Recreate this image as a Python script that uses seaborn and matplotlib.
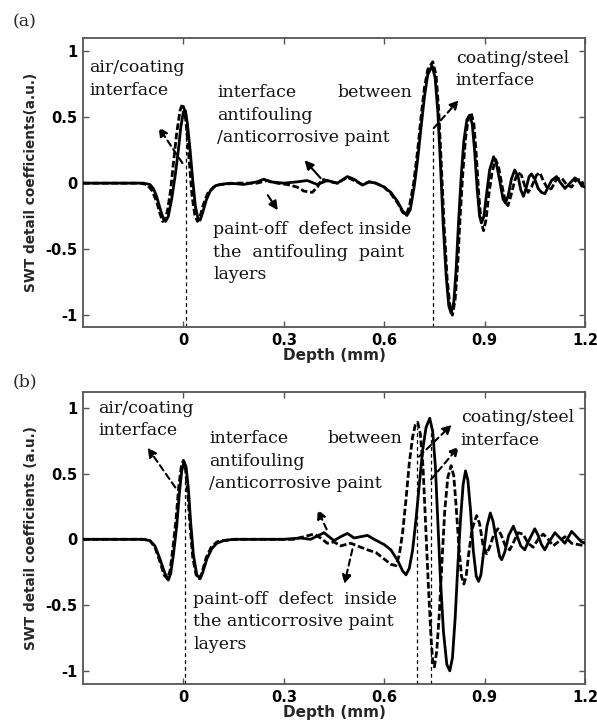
import matplotlib
matplotlib.use("Agg")
import matplotlib.pyplot as plt
import seaborn as sns
import pandas as pd

# ---------------- data ----------------
a_solid_x = [-0.30, -0.12, -0.10, -0.09, -0.08, -0.07, -0.06, -0.053, -0.045, -0.035, -0.025, -0.015,
             -0.008, 0.0, 0.006, 0.012, 0.02, 0.028, 0.036, 0.044, 0.05, 0.058, 0.068, 0.08, 0.095,
             0.11, 0.14, 0.18, 0.22, 0.24, 0.26, 0.30, 0.34, 0.37, 0.40, 0.43, 0.46, 0.49, 0.51,
             0.535, 0.555, 0.575, 0.60, 0.62, 0.64, 0.655, 0.668, 0.678, 0.69, 0.70, 0.71, 0.72,
             0.73, 0.743, 0.752, 0.76, 0.768, 0.776, 0.785, 0.793, 0.80, 0.808, 0.815, 0.822, 0.83,
             0.838, 0.847, 0.855, 0.863, 0.87, 0.878, 0.885, 0.891, 0.898, 0.905, 0.915, 0.927,
             0.935, 0.945, 0.955, 0.962, 0.97, 0.98, 0.99, 1.0, 1.008, 1.016, 1.025, 1.033, 1.04,
             1.05, 1.06, 1.07, 1.08, 1.09, 1.10, 1.115, 1.125, 1.14, 1.155, 1.17, 1.18, 1.19, 1.20]
a_solid_y = [0.0, 0.0, -0.01, -0.04, -0.10, -0.19, -0.27, -0.29, -0.25, -0.12, 0.05, 0.25,
             0.42, 0.54, 0.55, 0.45, 0.25, 0.02, -0.18, -0.27, -0.28, -0.22, -0.13, -0.06, -0.02,
             -0.01, 0.0, -0.01, 0.01, 0.03, 0.01, 0.0, 0.01, 0.02, -0.01, 0.02, 0.0, 0.05, 0.03,
             -0.015, 0.01, 0.0, -0.03, -0.07, -0.14, -0.21, -0.245, -0.20, -0.02, 0.18, 0.42, 0.65,
             0.82, 0.89, 0.80, 0.55, 0.15, -0.30, -0.70, -0.93, -0.985, -0.90, -0.65, -0.30, 0.05,
             0.32, 0.48, 0.515, 0.45, 0.25, -0.05, -0.25, -0.30, -0.25, -0.10, 0.10, 0.20,
             0.15, 0.02, -0.12, -0.15, -0.10, 0.03, 0.10, 0.05, -0.05, -0.10, -0.03, 0.05, 0.07,
             0.03, -0.04, -0.07, -0.08, -0.03, 0.02, 0.05, 0.01, -0.04, 0.0, 0.04, 0.02, -0.02, -0.03]

a_dash_x = [-0.30, -0.13, -0.11, -0.095, -0.08, -0.07, -0.062, -0.055, -0.047, -0.038, -0.03, -0.02,
            -0.01, -0.003, 0.004, 0.01, 0.018, 0.026, 0.034, 0.042, 0.05, 0.06, 0.072, 0.09, 0.11,
            0.16, 0.22, 0.25, 0.28, 0.31, 0.34, 0.36, 0.385, 0.40, 0.415, 0.44, 0.46, 0.49, 0.51,
            0.535, 0.555, 0.575, 0.60, 0.62, 0.64, 0.655, 0.665, 0.675, 0.688, 0.70, 0.71, 0.72,
            0.73, 0.745, 0.755, 0.763, 0.771, 0.779, 0.788, 0.797, 0.804, 0.812, 0.82, 0.827,
            0.835, 0.843, 0.852, 0.86, 0.868, 0.875, 0.883, 0.89, 0.897, 0.904, 0.912, 0.922,
            0.933, 0.942, 0.952, 0.963, 0.97, 0.978, 0.99, 1.0, 1.01, 1.02, 1.03, 1.04, 1.055,
            1.065, 1.075, 1.09, 1.10, 1.115, 1.13, 1.145, 1.16, 1.175, 1.19, 1.20]
a_dash_y = [0.0, 0.0, -0.01, -0.05, -0.14, -0.23, -0.29, -0.28, -0.20, -0.05, 0.15, 0.38,
            0.55, 0.60, 0.55, 0.40, 0.15, -0.10, -0.24, -0.29, -0.25, -0.16, -0.08, -0.03, -0.01,
            0.0, 0.0, 0.02, 0.0, -0.01, -0.03, -0.06, -0.07, -0.03, 0.03, 0.01, 0.0, 0.045, 0.02,
            -0.01, 0.01, 0.0, -0.03, -0.08, -0.15, -0.22, -0.24, -0.18, 0.0, 0.25, 0.50, 0.72,
            0.86, 0.92, 0.82, 0.55, 0.12, -0.32, -0.72, -0.95, -1.0, -0.88, -0.60, -0.25,
            0.08, 0.34, 0.50, 0.53, 0.45, 0.22, -0.10, -0.30, -0.36, -0.28, -0.10, 0.08,
            0.18, 0.12, -0.02, -0.15, -0.17, -0.10, 0.02, 0.08, 0.06, -0.02, -0.07, -0.03, 0.06,
            0.08, 0.02, -0.05, -0.04, 0.03, 0.04, -0.01, -0.03, 0.03, 0.02, -0.05]

b_solid_x = [-0.30, -0.12, -0.10, -0.085, -0.07, -0.055, -0.045, -0.038, -0.03, -0.02, -0.012,
             -0.005, 0.002, 0.008, 0.015, 0.022, 0.03, 0.04, 0.05, 0.058, 0.07, 0.085, 0.10, 0.12,
             0.15, 0.30, 0.35, 0.38, 0.42, 0.45, 0.47, 0.49, 0.51, 0.53, 0.55, 0.57, 0.60, 0.62,
             0.64, 0.655, 0.665, 0.675, 0.685, 0.695, 0.705, 0.715, 0.725, 0.736, 0.745, 0.753,
             0.76, 0.768, 0.777, 0.787, 0.796, 0.804, 0.812, 0.82, 0.828, 0.836, 0.843, 0.85,
             0.858, 0.866, 0.875, 0.882, 0.889, 0.897, 0.907, 0.917, 0.925, 0.935, 0.945, 0.951,
             0.96, 0.972, 0.986, 0.995, 1.008, 1.02, 1.03, 1.05, 1.06, 1.07, 1.08, 1.09, 1.11,
             1.125, 1.14, 1.16, 1.175, 1.19, 1.20]
b_solid_y = [0.0, 0.0, -0.01, -0.05, -0.15, -0.26, -0.31, -0.26, -0.12, 0.10, 0.35,
             0.52, 0.59, 0.55, 0.38, 0.12, -0.12, -0.27, -0.30, -0.25, -0.15, -0.07, -0.03, -0.01,
             0.0, 0.0, 0.01, 0.0, 0.05, -0.01, 0.02, 0.045, 0.01, 0.02, 0.03, 0.0, -0.04, -0.08,
             -0.16, -0.24, -0.27, -0.22, -0.08, 0.15, 0.42, 0.68, 0.85, 0.92, 0.82, 0.55,
             0.15, -0.30, -0.70, -0.95, -1.0, -0.90, -0.60, -0.20, 0.15, 0.42, 0.52, 0.45,
             0.22, -0.08, -0.28, -0.32, -0.27, -0.10, 0.10, 0.20, 0.14, 0.0, -0.13, -0.155,
             -0.10, 0.03, 0.10, 0.04, -0.05, -0.08, -0.02, 0.08, 0.03, -0.04, -0.08, -0.03, 0.05,
             0.01, -0.03, 0.06, 0.02, -0.02, -0.03]

b_dash_x = [-0.30, -0.12, -0.10, -0.085, -0.07, -0.058, -0.048, -0.04, -0.032, -0.022, -0.014,
            -0.006, 0.0, 0.006, 0.013, 0.02, 0.028, 0.038, 0.048, 0.056, 0.068, 0.083, 0.10, 0.12,
            0.15, 0.33, 0.36, 0.39, 0.41, 0.43, 0.45, 0.47, 0.50, 0.52, 0.55, 0.575, 0.60, 0.62,
            0.635, 0.645, 0.655, 0.665, 0.675, 0.685, 0.693, 0.70, 0.708, 0.716, 0.724, 0.732,
            0.74, 0.745, 0.75, 0.757, 0.765, 0.773, 0.781, 0.79, 0.80, 0.808, 0.815, 0.823,
            0.831, 0.838, 0.845, 0.853, 0.863, 0.876, 0.885, 0.895, 0.906, 0.915, 0.928, 0.94,
            0.95, 0.962, 0.975, 0.985, 1.0, 1.015, 1.03, 1.045, 1.06, 1.075, 1.09, 1.105, 1.12,
            1.14, 1.16, 1.18, 1.20]
b_dash_y = [0.0, 0.0, -0.01, -0.06, -0.17, -0.27, -0.30, -0.24, -0.08, 0.15, 0.40,
            0.56, 0.60, 0.54, 0.35, 0.10, -0.14, -0.27, -0.30, -0.25, -0.14, -0.06, -0.02, -0.01,
            0.0, 0.0, 0.02, 0.04, 0.01, -0.03, -0.02, -0.05, -0.03, -0.05, -0.08, -0.10, -0.15, -0.19,
            -0.20, -0.12, 0.05, 0.30, 0.58, 0.78, 0.87, 0.89, 0.80, 0.55, 0.10, -0.35,
            -0.75, -0.93, -0.97, -0.85, -0.55, -0.15, 0.22, 0.47, 0.56, 0.48, 0.25, -0.05,
            -0.28, -0.34, -0.28, -0.10, 0.08, 0.18, 0.12, -0.04, -0.11, -0.06, 0.04, 0.08,
            0.03, -0.05, -0.08, -0.03, 0.05, 0.04, -0.03, -0.06, 0.0, 0.04, 0.0, -0.05, -0.02,
            0.02, -0.03, -0.04, -0.05]

x_ticks = [0, 0.3, 0.6, 0.9, 1.2]
x_tick_labels = ["0", "0.3", "0.6", "0.9", "1.2"]
y_ticks = [-1, -0.5, 0, 0.5, 1]
y_tick_labels = ["-1", "-0.5", "0", "0.5", "1"]

a_vlines = [0.007, 0.745]
b_vlines = [0.004, 0.698, 0.740]

# ---------------- styling ----------------
sns.set_theme(style="ticks")
plt.rcParams["font.family"] = ["DejaVu Sans"]

SERIF = "DejaVu Serif"
TXT = 12.5
LS = 1.42
LINE_DY = 0.172   # one text line in data units (about 23 px)

fig = plt.figure(figsize=(5.97, 7.27), dpi=100)
W, H = 597, 727


def px_axes(l, t, r, b):
    return fig.add_axes([l / W, 1 - b / H, (r - l) / W, (b - t) / H])


ax_a = px_axes(83, 38, 585, 327)
ax_b = px_axes(83, 392, 585, 684)


def style_axes(ax, ylim, ylabel):
    ax.set_xlim(-0.3, 1.2)
    ax.set_ylim(*ylim)
    ax.set_xticks(x_ticks)
    ax.set_xticklabels(x_tick_labels)
    ax.set_yticks(y_ticks)
    ax.set_yticklabels(y_tick_labels)
    ax.tick_params(direction="in", length=4, width=1, colors="#555555",
                   top=True, right=True, labelcolor="black", labelsize=10.5, pad=4)
    for lab in ax.get_xticklabels() + ax.get_yticklabels():
        lab.set_fontweight("bold")
    for sp in ax.spines.values():
        sp.set_color("#555555")
        sp.set_linewidth(1.3)
    ax.set_xlabel("Depth (mm)", fontsize=11, fontweight="bold", labelpad=0)
    ax.set_ylabel(ylabel, fontsize=9.8, fontweight="bold", labelpad=5)
    ax.grid(False)


def draw_curves(ax, sx, sy, dx, dy, vlines, vtops, ybottom):
    for xv, yt in zip(vlines, vtops):
        ax.plot([xv, xv], [ybottom, yt], color="black", lw=0.9,
                linestyle=(0, (3, 2.5)), zorder=1)
    d1 = pd.DataFrame({"x": sx, "y": sy})
    d2 = pd.DataFrame({"x": dx, "y": dy})
    sns.lineplot(data=d1, x="x", y="y", ax=ax, color="black", lw=2.0,
                 estimator=None, sort=False, zorder=3)
    sns.lineplot(data=d2, x="x", y="y", ax=ax, color="black", lw=2.0,
                 estimator=None, sort=False, linestyle=(0, (2.4, 1.0)), zorder=2)


def arrow(ax, tail, head, dashed=True):
    ax.annotate("", xy=head, xytext=tail,
                arrowprops=dict(arrowstyle="-|>", color="black", lw=1.5,
                                linestyle=(0, (3, 2)) if dashed else "-",
                                mutation_scale=13, shrinkA=0, shrinkB=0))


def txt(ax, x, y, s, ha="left"):
    ax.text(x, y, s, family=SERIF, fontsize=TXT, ha=ha, va="top",
            linespacing=LS, color="#111111", zorder=5)


# ---------------- panel (a) ----------------
ya = (-1.09, 1.10)
style_axes(ax_a, ya, "SWT detail coefficients(a.u.)")
draw_curves(ax_a, a_solid_x, a_solid_y, a_dash_x, a_dash_y, a_vlines, [0.45, 0.40], ya[0])
txt(ax_a, -0.282, 0.94, "air/coating\ninterface")
txt(ax_a, 0.101, 0.75, "interface")
txt(ax_a, 0.683, 0.75, "between", ha="right")
txt(ax_a, 0.101, 0.75 - LINE_DY, "antifouling\n/anticorrosive paint")
txt(ax_a, 0.814, 1.01, "coating/steel\ninterface")
txt(ax_a, 0.089, -0.29, "paint-off  defect inside\nthe  antifouling  paint\nlayers")
arrow(ax_a, (-0.003, 0.152), (-0.074, 0.424))
arrow(ax_a, (0.41, 0.038), (0.362, 0.174), dashed=False)
arrow(ax_a, (0.252, -0.091), (0.282, -0.205), dashed=False)
arrow(ax_a, (0.748, 0.417), (0.823, 0.629))

# ---------------- panel (b) ----------------
yb = (-1.10, 1.12)
style_axes(ax_b, yb, "SWT detail coefficients (a.u.)")
draw_curves(ax_b, b_solid_x, b_solid_y, b_dash_x, b_dash_y, b_vlines, [0.45, 0.85, 0.88], yb[0])
txt(ax_b, -0.255, 1.06, "air/coating\ninterface")
txt(ax_b, 0.077, 0.83, "interface")
txt(ax_b, 0.653, 0.83, "between", ha="right")
txt(ax_b, 0.077, 0.83 - LINE_DY, "antifouling\n/anticorrosive paint")
txt(ax_b, 0.829, 0.99, "coating/steel\ninterface")
txt(ax_b, 0.030, -0.39, "paint-off  defect  inside\nthe anticorrosive paint\nlayers")
arrow(ax_b, (-0.024, 0.394), (-0.107, 0.697))
arrow(ax_b, (0.428, 0.076), (0.401, 0.227))
arrow(ax_b, (0.704, 0.629), (0.802, 0.871))
arrow(ax_b, (0.740, 0.455), (0.823, 0.705))
arrow(ax_b, (0.505, -0.076), (0.481, -0.34))

fig.text(13 / W, 1 - 22 / H, "(a)", family=SERIF, fontsize=12.5, va="center", ha="left")
fig.text(13 / W, 1 - 382 / H, "(b)", family=SERIF, fontsize=12.5, va="center", ha="left")

fig.savefig("out.png", dpi=100)
